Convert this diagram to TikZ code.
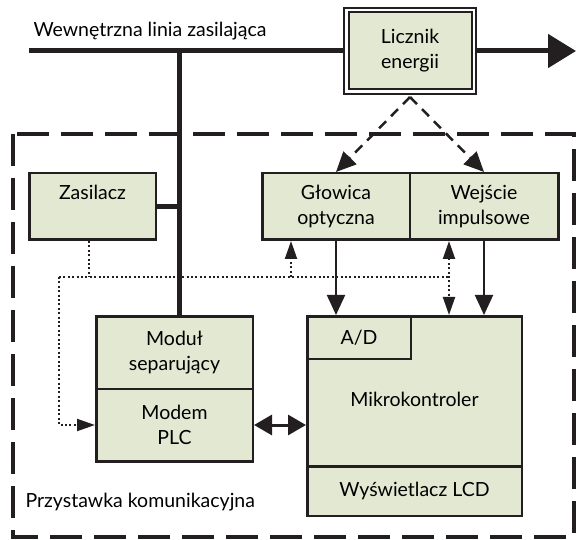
\documentclass[tikz,border=0pt]{standalone}
\usepackage{fontspec}
\setmainfont{Lato}
\usetikzlibrary{arrows.meta,positioning}
\definecolor{boxfill}{RGB}{226,232,210}
\definecolor{ink}{RGB}{35,31,32}

\begin{document}
\begin{tikzpicture}[x=1pt,y=-1pt,node distance=0pt,>={Triangle[length=20pt,width=18pt]},
        font=\fontsize{19.5}{25}\selectfont]
        \tikzstyle{block}=[rectangle,draw=ink,line width=2.5pt,fill=boxfill,align=center,inner sep=0pt]
        \tikzstyle{power}=[draw=ink,line width=5pt]
        \tikzstyle{signal}=[draw=ink,line width=2pt]
        \tikzstyle{pulse}=[draw=ink,line width=2.5pt,dash pattern=on 10pt off 7pt]
        \tikzstyle{supply}=[draw=ink,line width=2pt,dash pattern=on 2pt off 2.4pt,>={Triangle[length=18pt,width=12pt]}]

        \useasboundingbox (0,0) rectangle (576,540);

        % obudowa przystawki
        \draw [draw=ink,line width=3.5pt,dash pattern=on 32pt off 12pt] (13,134) rectangle (574,537);
        \node [anchor=west] (opis) at (22,502) {Przystawka komunikacyjna};

        % linia zasilajaca i licznik
        \node [block,double=white,double distance=2.5pt,line width=2pt,
               minimum width=127.5pt,minimum height=81.5pt] (licznik) at (410,51) {Licznik\\energii};
        \coordinate (poczatek) at (29,51);
        \coordinate (koniec) at (576,51);
        \coordinate (odczep) at (179,51);
        \node [anchor=west] (linia) at (30,31) {Wewnętrzna linia zasilająca};
        \draw [power] (poczatek) -- (licznik.west);
        \draw [power,-{Triangle[length=28pt,width=33pt]}] (licznik.east) -- (koniec);

        % bloki
        \node [block,minimum width=126.5pt,minimum height=66.5pt] (zasilacz) at (92.5,206.5) {Zasilacz\\\phantom{g}};
        \node [block,minimum width=147.5pt,minimum height=66.5pt] (glowica) at (336,206.5) {Głowica\\optyczna};
        \node [block,minimum width=148.5pt,minimum height=66.5pt,right=-2.5pt of glowica] (wejscie) {Wejście\\impulsowe};
        \node [block,minimum width=156.5pt,minimum height=72.5pt] (modul) at (174.5,352.5) {Moduł\\separujący};
        \node [block,minimum width=156.5pt,minimum height=72.5pt,below=-2.5pt of modul] (modem) {Modem\\PLC};
        \node [block,minimum width=214.5pt,minimum height=199.5pt] (mikro) at (414.5,416) {Mikrokontroler\\[8pt]};
        \node [block,minimum width=103.5pt,minimum height=42.5pt,anchor=north west] (ad) at (mikro.north west) {A/D};
        \node [block,minimum width=214.5pt,minimum height=49.5pt,anchor=south] (lcd) at (mikro.south) {Wyświetlacz LCD};

        % rozprowadzenie napiecia z zasilacza
        \coordinate (rozdz) at (59,277);
        \coordinate (g1) at (291,277);
        \coordinate (szyna) at (449,277);
        \draw [supply] ([xshift=-4pt]zasilacz.south) -- ([xshift=-4pt]zasilacz.south |- rozdz);
        \draw [supply] (rozdz) -- (szyna);
        \draw [supply,->] (rozdz) |- (modem.west);
        \draw [supply,->] (g1) -- (g1 |- glowica.south);
        \draw [supply,<->] (szyna |- wejscie.south) -- (szyna |- mikro.north);

        % zasilanie przystawki
        \draw [power] (odczep) -- (odczep |- modul.north);
        \draw [power] (zasilacz.east) -- (zasilacz.east -| odczep);

        % odczyt licznika
        \coordinate (rozgal) at (410,97);
        \draw [pulse,->] (rozgal) -- (glowica.north);
        \draw [pulse,->] (rozgal) -- (wejscie.north);
        \draw [signal,->] (glowica.south) -- (glowica.south |- mikro.north);
        \draw [signal,->] (wejscie.south) -- (wejscie.south |- mikro.north);

        % komunikacja modem - mikrokontroler
        \draw [draw=ink,line width=3pt,{Triangle[length=18pt,width=20pt]}-{Triangle[length=18pt,width=20pt]}]
            (modem.east) -- (modem.east -| mikro.west);
    \end{tikzpicture}
\end{document}
